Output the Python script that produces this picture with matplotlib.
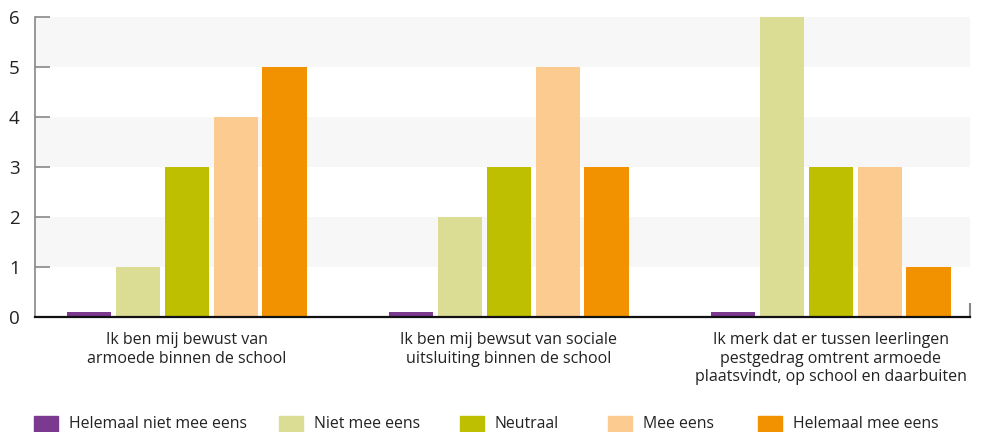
import numpy as np
import matplotlib.pyplot as plt
from matplotlib.patches import Rectangle

# categories (statements) and answer options
categories = ['Ik ben mij bewust van\narmoede binnen de school',
              'Ik ben mij bewsut van sociale\nuitsluiting binnen de school',
              'Ik merk dat er tussen leerlingen\npestgedrag omtrent armoede\nplaatsvindt, op school en daarbuiten']
series_names = ['Helemaal niet mee eens', 'Niet mee eens', 'Neutraal', 'Mee eens', 'Helemaal mee eens']
colors = ['#7b3990', '#dcdd94', '#bdbf00', '#fbcb8f', '#f39200']

helemaal_niet = [0.1, 0.1, 0.1]
niet_mee = [1, 2, 6]
neutraal = [3, 3, 3]
mee_eens = [4, 5, 3]
helemaal_mee = [5, 3, 1]
values = [helemaal_niet, niet_mee, neutraal, mee_eens, helemaal_mee]

plt.rcParams['font.family'] = ['Open Sans', 'DejaVu Sans']
text_color = '#222222'

fig = plt.figure(figsize=(9.81, 4.32), dpi=100)
ax = fig.add_axes([35 / 981, 115 / 432, 935 / 981, 300 / 432])

x = np.arange(len(categories))
width = 0.137
step = 0.1515
for i, (vals, c) in enumerate(zip(values, colors)):
    ax.bar(x + (i - 2) * step, vals, width=width, color=c, zorder=3)

# alternating bands
for y0 in range(1, 6, 2):
    ax.axhspan(y0, y0 + 1, color='#f7f7f7', zorder=0, lw=0)

ax.set_ylim(0, 6)
ax.set_xlim(-0.472, 2.432)
ax.set_yticks(range(0, 7))
ax.tick_params(axis='y', direction='in', length=11, width=1.2, color='#888888',
               labelsize=13.5, labelcolor=text_color, pad=11)
for lbl in ax.get_yticklabels():
    lbl.set_horizontalalignment('right')

ax.set_xticks(x)
ax.set_xticklabels(categories, fontsize=11.5, color=text_color, linespacing=1.2)
ax.tick_params(axis='x', length=0, pad=11)
ax.set_xticks([2.432], minor=True)
ax.tick_params(axis='x', which='minor', direction='in', length=10, width=1.5, color='#888888')

for s in ['top', 'right']:
    ax.spines[s].set_visible(False)
ax.spines['left'].set_color('#888888')
ax.spines['left'].set_linewidth(1.2)
ax.spines['bottom'].set_color('#111111')
ax.spines['bottom'].set_linewidth(1.6)
ax.spines['bottom'].set_zorder(4)

# legend at the bottom
legend_x = [34, 279, 460, 608, 758]
for lx, name, c in zip(legend_x, series_names, colors):
    fig.patches.append(Rectangle((lx / 981, 0), 24 / 981, 16 / 432,
                                 transform=fig.transFigure, color=c))
    fig.text((lx + 35) / 981, 8 / 432, name, fontsize=11.4, color=text_color,
             va='center', ha='left')

fig.savefig('out.png', dpi=100)
